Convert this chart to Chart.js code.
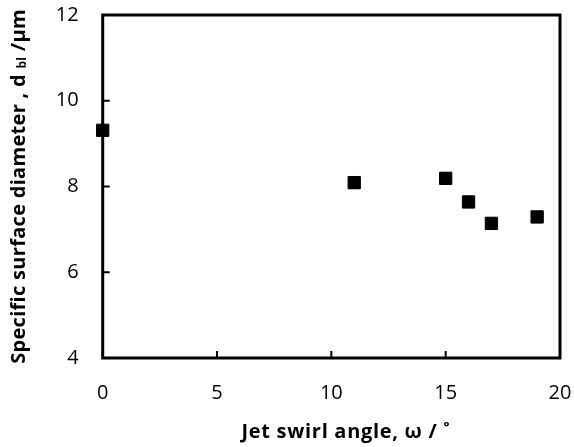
<!DOCTYPE html>
<html><head><meta charset="utf-8">
<script src="https://cdn.jsdelivr.net/npm/chart.js@4"></script>
<style>html,body{margin:0;padding:0;background:#fff}#wrap{width:574px;height:447px}</style>
</head><body><div id="wrap"><canvas id="c" width="574" height="447"></canvas></div>
<script>
const swirlAngle = [0, 11, 15, 16, 17, 19];
const diameter = [9.31, 8.09, 8.19, 7.64, 7.14, 7.29];
const xTicks = [0, 5, 10, 15, 20];
const yTicks = [4, 6, 8, 10, 12];
const xTitle = 'Jet swirl angle, \u03c9 / \u02da';
const yTitleMain = 'Specific surface diameter , d';
const yTitleSub = 'bl';
const yTitleEnd = ' /\u03bcm';

const FONT = '"Open Sans", Lato, sans-serif';

const framePlugin = {
  id: 'frame',
  beforeDatasetsDraw(chart) {
    const {ctx, chartArea: a, scales} = chart;
    ctx.save();
    ctx.strokeStyle = '#000';
    ctx.lineWidth = 3;
    ctx.strokeRect(a.left, a.top, a.right - a.left, a.bottom - a.top);
    ctx.lineWidth = 2;
    ctx.beginPath();
    xTicks.forEach(v => {
      const px = scales.x.getPixelForValue(v);
      ctx.moveTo(px, a.bottom); ctx.lineTo(px, a.bottom - 7);
    });
    yTicks.forEach(v => {
      const py = scales.y.getPixelForValue(v);
      ctx.moveTo(a.left, py); ctx.lineTo(a.left + 7, py);
    });
    ctx.stroke();
    ctx.restore();
  },
  afterDraw(chart) {
    const {ctx, chartArea: a} = chart;
    ctx.save();
    ctx.fillStyle = '#000';
    ctx.letterSpacing = '0.7px';
    ctx.font = 'bold 20px ' + FONT;
    ctx.textAlign = 'center';
    ctx.textBaseline = 'middle';
    ctx.fillText(xTitle, 346, 432);
    ctx.letterSpacing = '0.3px';
    ctx.translate(19, (a.top + a.bottom) / 2);
    ctx.rotate(-Math.PI / 2);
    ctx.textAlign = 'left';
    ctx.textBaseline = 'middle';
    const fMain = 'bold 20px ' + FONT, fSub = 'bold 12px ' + FONT;
    ctx.font = fMain; const w1 = ctx.measureText(yTitleMain + ' ').width;
    const w3 = ctx.measureText(yTitleEnd).width;
    ctx.font = fSub; const w2 = ctx.measureText(yTitleSub).width;
    const total = w1 + w2 + w3;
    let x = -total / 2;
    ctx.font = fMain; ctx.fillText(yTitleMain + ' ', x, 0); x += w1;
    ctx.font = fSub; ctx.fillText(yTitleSub, x, 4); x += w2;
    ctx.font = fMain; ctx.fillText(yTitleEnd, x, 0);
    ctx.letterSpacing = '0px';
    ctx.restore();
    ctx.letterSpacing = '0px';
  }
};

new Chart(document.getElementById('c'), {
  type: 'scatter',
  data: {
    datasets: [{
      data: swirlAngle.map((x, i) => ({x, y: diameter[i]})),
      pointStyle: 'rect',
      pointRadius: 8.7,
      pointHoverRadius: 8.7,
      backgroundColor: '#000',
      borderColor: '#000',
      borderWidth: 1,
      clip: false
    }]
  },
  options: {
    responsive: false,
    animation: false,
    layout: {padding: {top: 15, right: 14, left: 0, bottom: 0}},
    plugins: {legend: {display: false}, tooltip: {enabled: false}},
    scales: {
      x: {
        type: 'linear', min: 0, max: 20,
        afterBuildTicks: s => { s.ticks = xTicks.map(v => ({value: v})); },
        afterFit: s => { s.height = 89; s.paddingLeft = 0; s.paddingRight = 0; },
        grid: {display: false, drawTicks: false},
        border: {display: false},
        ticks: {padding: 23, color: '#000', font: {family: FONT, size: 20}}
      },
      y: {
        type: 'linear', min: 4, max: 12,
        afterBuildTicks: s => { s.ticks = yTicks.map(v => ({value: v})); },
        afterFit: s => { s.width = 102.7; s.paddingTop = 0; s.paddingBottom = 0; },
        grid: {display: false, drawTicks: false},
        border: {display: false},
        ticks: {padding: 24, color: '#000', font: {family: FONT, size: 20}}
      }
    }
  },
  plugins: [framePlugin]
});
</script>
</body></html>
